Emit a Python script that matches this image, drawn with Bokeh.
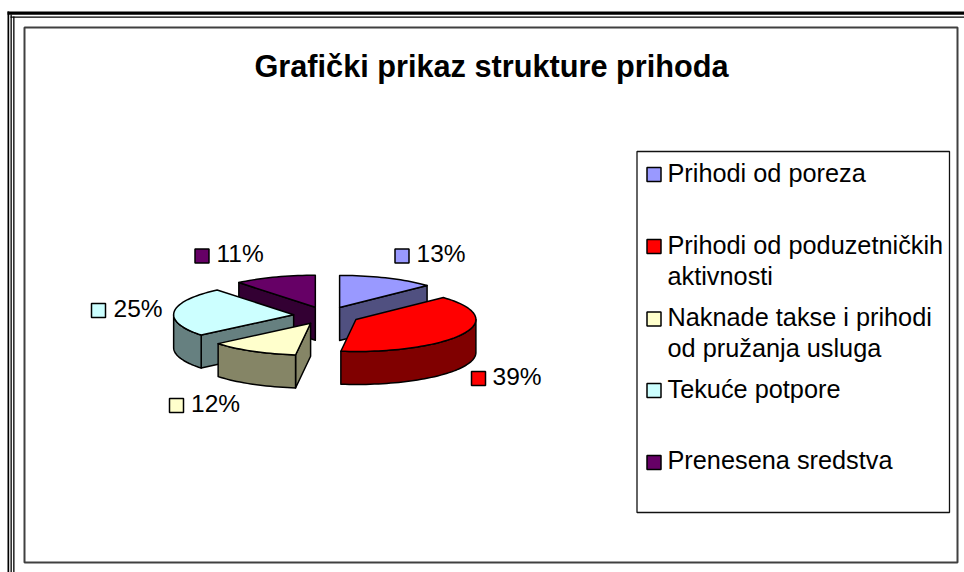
import math
from bokeh.plotting import figure
from bokeh.models import Range1d
from bokeh.core.properties import value
from bokeh.embed import file_html
from bokeh.resources import INLINE

# ---- data ----
title = "Grafički prikaz strukture prihoda"
categories = ["Prihodi od poreza", "Prihodi od poduzetničkih aktivnosti",
              "Naknade takse i prihodi od pružanja usluga", "Tekuće potpore", "Prenesena sredstva"]
values = [13, 39, 12, 25, 11]
labels = ["13%", "39%", "12%", "25%", "11%"]
top_colors = ["#9999FF", "#FF0000", "#FFFFCC", "#CCFFFF", "#660066"]
side_colors = ["#505080", "#800000", "#858566", "#668080", "#330033"]

# ---- layout (page pixels) ----
W, H = 964, 572
FONT = "Liberation Sans"
CX, CY, RX, RY, DEPTH, EXPLODE = 326.0, 315.0, 120.0, 32.0, 33.0, 0.275
DRAW_ORDER = [4, 0, 3, 2, 1]
LABEL_BOX = {0: (394.5, 248.5), 1: (471, 371), 2: (169, 398), 3: (91, 303), 4: (194.5, 248.5)}
LABEL_TEXT = {0: (416, 262), 1: (492, 385), 2: (190.5, 412), 3: (113, 317), 4: (216, 262)}
LEGEND_BOX_Y = [167, 239, 311.5, 383, 455]
LEGEND_LINES = [("Prihodi od poreza", 181), ("Prihodi od poduzetničkih", 253), ("aktivnosti", 284),
                ("Naknade takse i prihodi", 325.5), ("od pružanja usluga", 356.5),
                ("Tekuće potpore", 397), ("Prenesena sredstva", 468)]

p = figure(width=W, height=H, output_backend="svg", toolbar_location=None,
           x_range=Range1d(0, W), y_range=Range1d(H, 0),
           min_border=0, outline_line_color=None, background_fill_color="white",
           border_fill_color="white")
p.axis.visible = False
p.grid.visible = False

# page frame
bands = [(7, W, 11, 14.3), (10, W, 16, 17.3),
         (7, 8.7, 11, H), (10, 11.3, 14, H), (12.7, 14, 16, H)]
p.quad(left=[b[0] for b in bands], right=[b[1] for b in bands],
       top=[b[2] for b in bands], bottom=[b[3] for b in bands],
       fill_color="black", line_color=None)
p.quad(left=[24], right=[957], top=[27], bottom=[562], fill_color=None,
       line_color="#404040", line_width=2)

# title
p.text(x=[491], y=[77], text=[title], text_align="center", text_baseline="alphabetic", y_offset=-11,
       text_font=value(FONT), text_font_style="bold", text_font_size="30.7px", text_color="black")

# legend frame
p.quad(left=[636.5], right=[949], top=[151], bottom=[512], fill_color="white",
       line_color="#111111", line_width=1.3)


def pt(cx, cy, a):
    return cx + RX * math.sin(a), cy - RY * math.cos(a)


total = sum(values)
acc = 0
wedges = []
for v in values:
    start = acc / total * 2 * math.pi
    acc += v
    end = acc / total * 2 * math.pi
    wedges.append((start, end))

xs, ys, fills = [], [], []
for i in DRAW_ORDER:
    a0, a1 = wedges[i]
    mid = (a0 + a1) / 2
    cx = CX + EXPLODE * RX * math.sin(mid)
    cy = CY - EXPLODE * RY * math.cos(mid)
    n = max(2, int((a1 - a0) / math.radians(2)))
    arc = [a0 + (a1 - a0) * k / n for k in range(n + 1)]

    if -math.cos(a0 - math.pi / 2) > 0:
        x, y = pt(cx, cy, a0)
        xs.append([cx, x, x, cx]); ys.append([cy, y, y + DEPTH, cy + DEPTH]); fills.append(side_colors[i])
    if -math.cos(a1 + math.pi / 2) > 0:
        x, y = pt(cx, cy, a1)
        xs.append([cx, x, x, cx]); ys.append([cy, y, y + DEPTH, cy + DEPTH]); fills.append(side_colors[i])
    front = [a for a in arc if math.pi / 2 <= a <= 3 * math.pi / 2]
    if a0 < math.pi / 2 < a1:
        front = [math.pi / 2] + front
    if a0 < 3 * math.pi / 2 < a1:
        front = front + [3 * math.pi / 2]
    if len(front) > 1:
        rim = [pt(cx, cy, a) for a in front]
        xs.append([q[0] for q in rim] + [q[0] for q in reversed(rim)])
        ys.append([q[1] for q in rim] + [q[1] + DEPTH for q in reversed(rim)])
        fills.append(side_colors[i])
    top = [pt(cx, cy, a) for a in arc]
    xs.append([cx] + [q[0] for q in top])
    ys.append([cy] + [q[1] for q in top])
    fills.append(top_colors[i])

p.patches(xs, ys, fill_color=fills, line_color="black", line_width=1.5, line_join="round")

S = 14
idx = list(range(len(values)))
p.quad(left=[LABEL_BOX[i][0] for i in idx], right=[LABEL_BOX[i][0] + S for i in idx],
       top=[LABEL_BOX[i][1] for i in idx], bottom=[LABEL_BOX[i][1] + S for i in idx],
       fill_color=top_colors, line_color="black", line_width=1.5)
p.text(x=[LABEL_TEXT[i][0] for i in idx], y=[LABEL_TEXT[i][1] for i in idx], text=labels,
       text_align="left", text_baseline="alphabetic", y_offset=-9, text_font=value(FONT),
       text_font_size="24.5px", text_color="black")

p.quad(left=[646.5] * 5, right=[646.5 + S] * 5, top=LEGEND_BOX_Y, bottom=[y + S for y in LEGEND_BOX_Y],
       fill_color=top_colors, line_color="black", line_width=1.5)
p.text(x=[667] * len(LEGEND_LINES), y=[l[1] for l in LEGEND_LINES], text=[l[0] for l in LEGEND_LINES],
       text_align="left", text_baseline="alphabetic", y_offset=-9, text_font=value(FONT),
       text_font_size="25.3px", text_color="black")

open("out.html", "w").write(file_html(p, INLINE))
